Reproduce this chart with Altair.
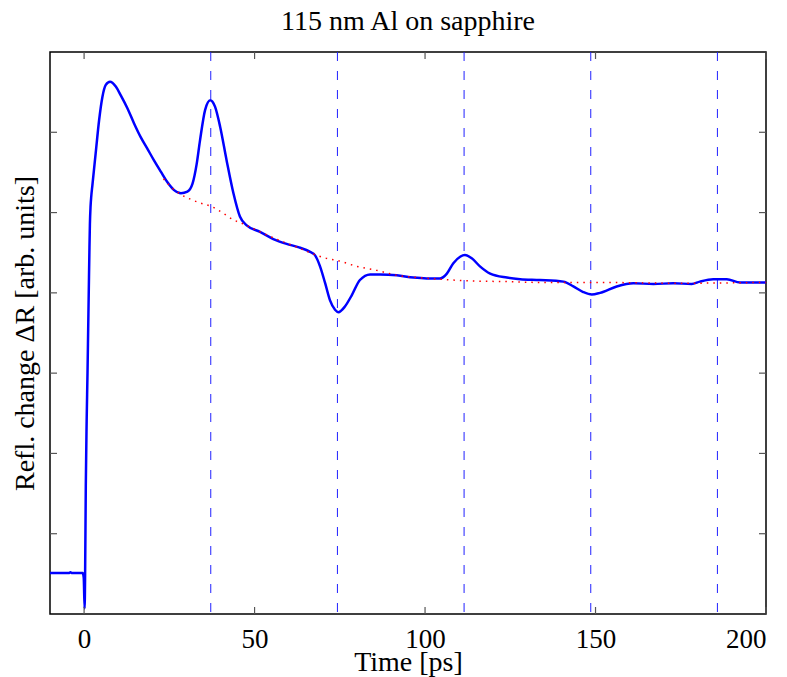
import altair as alt
import pandas as pd

# ---- data ----
signal_time = [-10, -4.5, -4.0, -3.5, -0.4, -0.1, 0.15, 0.3, 0.5, 0.75, 1.0, 1.2, 1.4, 1.55, 1.7,
               1.9, 2.1, 2.43, 3.4, 4.4, 5.37, 6.36, 7.6, 9.3, 10.76, 12.7, 14.66, 16.6, 18.5,
               20.5, 22.5, 24.4, 26.4, 28.4, 30.3, 31.8, 33.0, 34.0, 35.5, 37.0, 38.4,
               39.9, 41.8, 43.8, 45.7, 47.7, 51.6, 55.5, 59.4, 62.8, 66.3, 67.7, 69.2, 70.7,
               72.1, 73.6, 74.6, 76.5, 78.5, 80.9, 83.9, 86.8, 91.7, 96.6, 100.5, 104.4, 106.4,
               108.3, 110.3, 111.7, 113.7, 116.1, 119.1, 124.0, 127.9, 133.7, 140.6, 143.5,
               146.4, 148.9, 151.3, 156.2, 161.1, 167.0, 172.8, 178.2, 180.6, 184.5, 188.5,
               192.4, 196.3, 200]
signal_refl = [0.51, 0.51, 0.52, 0.51, 0.51, 0.45, 0.07, 0.5, 1.6, 2.4, 3.0, 3.55, 4.1, 4.5, 4.85,
               5.08, 5.2, 5.34, 5.74, 6.15, 6.44, 6.59, 6.63, 6.57, 6.46, 6.30, 6.11, 5.94, 5.80,
               5.65, 5.51, 5.38, 5.28, 5.24, 5.26, 5.36, 5.60, 5.90, 6.28, 6.40, 6.32,
               6.07, 5.65, 5.24, 4.95, 4.84, 4.76, 4.67, 4.61, 4.57, 4.51, 4.47, 4.33, 4.12,
               3.91, 3.79, 3.76, 3.83, 3.97, 4.16, 4.23, 4.23, 4.22, 4.19, 4.18, 4.18, 4.24,
               4.37, 4.45, 4.47, 4.43, 4.33, 4.24, 4.19, 4.17, 4.16, 4.14, 4.08,
               4.01, 3.98, 4.00, 4.08, 4.12, 4.11, 4.12, 4.11, 4.14, 4.17, 4.17,
               4.13, 4.13, 4.13]

background_time = [23.3, 26, 28.6, 31, 34, 37.1, 40.5, 43.8, 46.6, 51.6, 57.5, 62.4, 66.3, 70.2,
                   74.6, 80, 85.8, 91.7, 98, 104.4, 112.2, 124, 133, 150, 175, 200]
background_refl = [5.42, 5.30, 5.22, 5.17, 5.12, 5.08, 5.00, 4.91, 4.86, 4.76, 4.65, 4.57, 4.50,
                   4.44, 4.40, 4.33, 4.28, 4.22, 4.19, 4.17, 4.15, 4.14, 4.13, 4.13, 4.12, 4.13]

echo_times = [37.15, 74.3, 111.45, 148.6, 185.75]

x_tick_values = [0, 50, 100, 150, 200]
y_tick_values = [1, 2, 3, 4, 5, 6]

W, H = 716, 562
FONT = "Liberation Serif"

signal_df = pd.DataFrame({"t": signal_time, "r": signal_refl})
bg_df = pd.DataFrame({"t": background_time, "r": background_refl})
echo_df = pd.DataFrame({"t": echo_times})
xt_df = pd.DataFrame({"t": x_tick_values})
yt_df = pd.DataFrame({"r": y_tick_values})

xscale = alt.Scale(domain=[-10, 200], nice=False, zero=False)
yscale = alt.Scale(domain=[0, 7], nice=False, zero=False)

xaxis = alt.Axis(values=x_tick_values, ticks=False, domain=False, grid=False,
                 labelFont=FONT, labelFontSize=27, labelColor="black", labelPadding=12,
                 title="Time [ps]", titleFont=FONT, titleFontSize=28, titleFontWeight="normal",
                 titleColor="black", titleY=56, titleBaseline="alphabetic")
yaxis = alt.Axis(labels=False, ticks=False, domain=False, grid=False,
                 title="Refl. change ΔR [arb. units]", titleFont=FONT, titleFontSize=28,
                 titleFontWeight="normal", titleColor="black", titleX=-17,
                 titleBaseline="alphabetic")

signal = alt.Chart(signal_df).mark_line(color="#0000ff", strokeWidth=2.5, interpolate="monotone").encode(
    x=alt.X("t:Q", scale=xscale, axis=xaxis),
    y=alt.Y("r:Q", scale=yscale, axis=yaxis),
)

background = alt.Chart(bg_df).mark_line(color="#ff0000", strokeWidth=1.5, strokeDash=[1.5, 5],
                                        interpolate="monotone").encode(
    x=alt.X("t:Q"), y=alt.Y("r:Q"))

echoes = alt.Chart(echo_df).mark_rule(color="#2020ff", strokeWidth=1, strokeDash=[9, 10]).encode(
    x=alt.X("t:Q"))

tick_len = 7
TICK_COLOR = "#555555"
x_ticks_bottom = alt.Chart(xt_df).mark_rule(color=TICK_COLOR, strokeWidth=1.2).encode(
    x=alt.X("t:Q"), y=alt.value(H), y2=alt.value(H - tick_len))
x_ticks_top = alt.Chart(xt_df).mark_rule(color=TICK_COLOR, strokeWidth=1.2).encode(
    x=alt.X("t:Q"), y=alt.value(0), y2=alt.value(tick_len))
y_ticks_left = alt.Chart(yt_df).mark_rule(color=TICK_COLOR, strokeWidth=1.2).encode(
    y=alt.Y("r:Q"), x=alt.value(0), x2=alt.value(tick_len))
y_ticks_right = alt.Chart(yt_df).mark_rule(color=TICK_COLOR, strokeWidth=1.2).encode(
    y=alt.Y("r:Q"), x=alt.value(W), x2=alt.value(W - tick_len))

chart = alt.layer(
    echoes, signal, background, x_ticks_bottom, x_ticks_top, y_ticks_left, y_ticks_right
).properties(
    width=W, height=H,
    title=alt.TitleParams("115 nm Al on sapphire", font=FONT, fontSize=28, fontWeight="normal",
                          color="black", offset=20, dy=27, baseline="alphabetic", anchor="middle",
                          frame="group"),
    autosize=alt.AutoSizeParams(type="none"),
    padding={"left": 50, "top": 52, "right": 21, "bottom": 63},
    background="white",
).configure_view(stroke="black", strokeWidth=1.5)

chart.save("out.html", embed_options={"renderer": "svg", "actions": False})
